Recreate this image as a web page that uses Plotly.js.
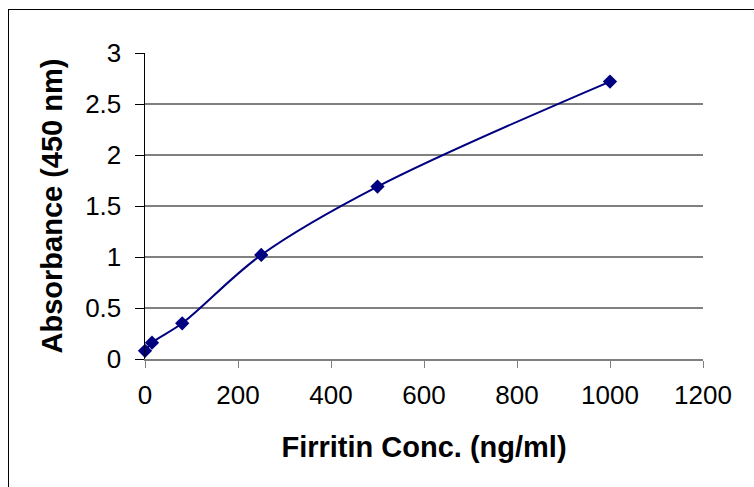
<!DOCTYPE html>
<html><head><meta charset="utf-8">
<script src="https://cdn.plot.ly/plotly-3.0.1.min.js"></script>
<style>body{margin:0;background:#fff}#frame{position:absolute;left:8px;top:9px;width:800px;height:600px;border:1px solid #000;pointer-events:none}</style>
</head><body>
<div id="chart" style="width:754px;height:487px"></div>
<div id="frame"></div>
<script>
const concentration = [0, 15, 80, 250, 500, 1000];
const absorbance = [0.08, 0.16, 0.35, 1.02, 1.69, 2.72];
const xTicks = [0, 200, 400, 600, 800, 1000, 1200];
const yTicks = [0, 0.5, 1, 1.5, 2, 2.5, 3];
const yTickText = ['0', '0.5', '1', '1.5', '2', '2.5', '3'];

const trace = {
  x: concentration, y: absorbance, type: 'scatter', mode: 'lines+markers',
  line: {color: '#000080', width: 2, shape: 'spline', smoothing: 1},
  marker: {symbol: 'diamond', size: 11, color: '#000080'},
  cliponaxis: false
};
const layout = {
  width: 754, height: 487,
  margin: {l: 145, r: 51, t: 53, b: 128},
  paper_bgcolor: '#fff', plot_bgcolor: '#fff',
  showlegend: false,
  font: {family: 'Liberation Sans, Arial, sans-serif', size: 26, color: '#000'},
  xaxis: {
    range: [0, 1200], tickvals: xTicks, ticktext: xTicks.map(String),
    tickfont: {size: 26},
    showgrid: false, zeroline: false, showline: true, linecolor: '#808080', linewidth: 1.5,
    ticks: 'outside', ticklen: 7, tickcolor: '#808080', tickwidth: 1, ticklabelstandoff: 5,
    title: {text: '<b>Firritin Conc. (ng/ml)</b>', font: {size: 29}, standoff: 28}
  },
  yaxis: {
    range: [0, 3], tickvals: yTicks, ticktext: yTickText,
    tickfont: {size: 26},
    showgrid: true, gridcolor: '#808080', gridwidth: 1.5, zeroline: false,
    showline: true, linecolor: '#000', linewidth: 1.5,
    ticks: 'outside', ticklen: 9, tickcolor: '#000', tickwidth: 1, ticklabelstandoff: 8,
    title: {text: '<b>Absorbance (450 nm)</b>', font: {size: 29}, standoff: 14}
  }
};
Plotly.newPlot('chart', [trace], layout, {displayModeBar: false, staticPlot: true});
</script>
</body></html>
